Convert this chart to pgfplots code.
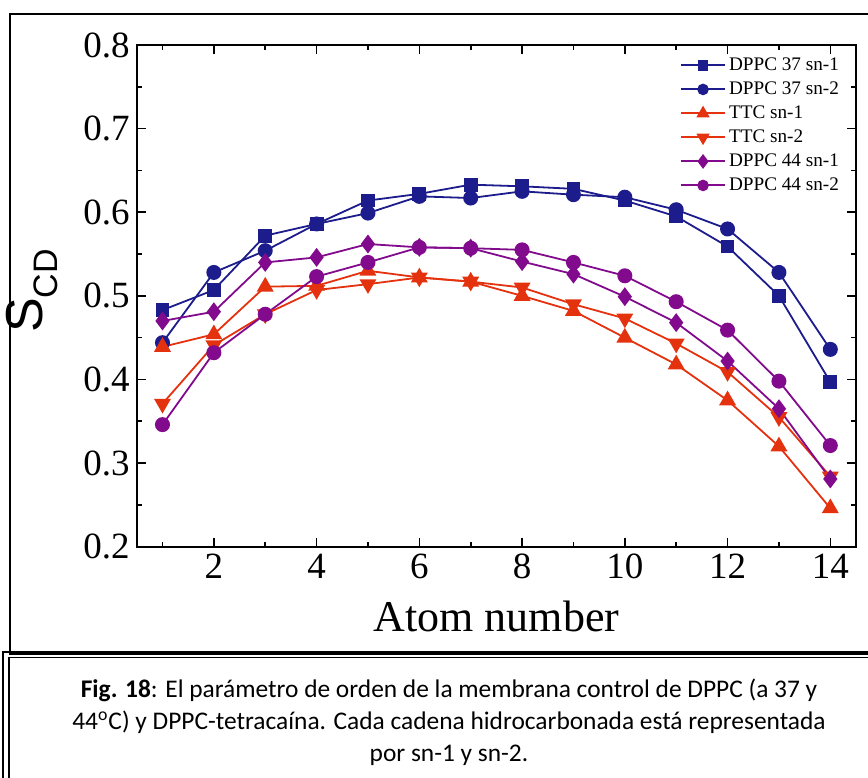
\documentclass[border=0pt]{standalone}
\usepackage{pgfplots}
\pgfplotsset{compat=1.18}
\usepackage{pgfplotstable}
\usepackage{fontspec}
\setmainfont{Liberation Serif}
\newfontfamily\arialfont{Liberation Sans}
\newfontfamily\calibri{Carlito}

\definecolor{navy37}{RGB}{28,28,140}
\definecolor{ttcred}{RGB}{228,50,15}
\definecolor{purp44}{RGB}{130,10,140}

% S_CD per carbon atom: DPPC 37C, TTC, DPPC 44C (sn-1 / sn-2)
\pgfplotstableread{
x  s37a  s37b  ttca  ttcb  s44a  s44b
1  0.483 0.444 0.439 0.371 0.470 0.346
2  0.507 0.528 0.454 0.441 0.481 0.432
3  0.572 0.554 0.511 0.478 0.540 0.478
4  0.586 0.586 0.512 0.507 0.546 0.523
5  0.614 0.599 0.530 0.514 0.562 0.540
6  0.622 0.619 0.522 0.522 0.558 0.558
7  0.633 0.617 0.517 0.517 0.557 0.557
8  0.631 0.625 0.500 0.510 0.541 0.555
9  0.628 0.621 0.482 0.490 0.526 0.540
10 0.614 0.618 0.450 0.473 0.499 0.524
11 0.595 0.603 0.418 0.443 0.468 0.493
12 0.559 0.580 0.375 0.409 0.422 0.459
13 0.500 0.528 0.320 0.355 0.365 0.398
14 0.397 0.436 0.246 0.284 0.281 0.321
}\sdata

\begin{document}
\begin{tikzpicture}
\useasboundingbox (0,0) rectangle (434pt,-388.5pt);
% frames round the figure and the caption
\draw[line width=1pt] (5pt,-7pt) rectangle (434.5pt,-327pt);
\draw[line width=0.6pt] (1.5pt,-389pt) -- (1.5pt,-326pt) -- (435pt,-326pt);
\draw[line width=0.6pt] (4.5pt,-389pt) -- (4.5pt,-328.7pt) -- (435pt,-328.7pt);

\begin{axis}[at={(68.4pt,-273.35pt)},anchor=south west,
 scale only axis,width=359.6pt,height=250.85pt,
 xmin=0.5,xmax=14.5,ymin=0.2,ymax=0.8,
 xtick={2,4,6,8,10,12,14},minor xtick={1,3,5,7,9,11,13},
 ytick={0.2,0.3,0.4,0.5,0.6,0.7,0.8},minor ytick={0.25,0.35,0.45,0.55,0.65,0.75},
 yticklabel style={/pgf/number format/fixed,/pgf/number format/precision=1,/pgf/number format/fixed zerofill},
 /pgf/number format/assume math mode=true,
 tick align=inside,major tick length=4.5pt,minor tick length=2.5pt,
 axis line style={line width=0.8pt},tick style={line width=0.8pt,black},
 tick label style={font=\fontsize{18.5}{20}\selectfont},
 xlabel={Atom number},xlabel style={font=\fontsize{22}{24}\selectfont,at={(axis description cs:0.5,-0.14)},anchor=center},
 ylabel={\arialfont S\raisebox{-0.28em}{\fontsize{17}{17}\selectfont CD}},
 ylabel style={font=\fontsize{26}{28}\selectfont,at={(axis description cs:-0.146,0.51)},anchor=center},
 legend style={at={(axis description cs:0.981,0.984)},anchor=north east,draw=none,fill=none,
  font=\fontsize{9.6}{11}\selectfont,inner sep=0pt,row sep=0pt,
  nodes={inner sep=1.5pt,text height=6.8pt,text depth=2.2pt}},
 legend cell align=left,
 legend image code/.code={\draw[line width=1pt,mark repeat=2,mark phase=2,every mark/.append style={scale=0.72}]
   plot coordinates {(0pt,0pt)(11pt,0pt)(22pt,0pt)};},
 every axis plot/.append style={line width=0.9pt,mark options={solid}}]
\addplot[color=navy37,mark=square*,mark size=3pt] table[x=x,y=s37a]{\sdata};
\addlegendentry{DPPC 37 sn-1}
\addplot[color=navy37,mark=*,mark size=3.3pt] table[x=x,y=s37b]{\sdata};
\addlegendentry{DPPC 37 sn-2}
\addplot[color=ttcred,mark=triangle*,mark size=4pt] table[x=x,y=ttca]{\sdata};
\addlegendentry{TTC sn-1}
\addplot[color=ttcred,mark=triangle*,mark size=4pt,mark options={rotate=180}] table[x=x,y=ttcb]{\sdata};
\addlegendentry{TTC sn-2}
\addplot[color=purp44,mark=diamond*,mark size=4pt] table[x=x,y=s44a]{\sdata};
\addlegendentry{DPPC 44 sn-1}
\addplot[color=purp44,mark=*,mark size=3.3pt] table[x=x,y=s44b]{\sdata};
\addlegendentry{DPPC 44 sn-2}
\end{axis}

\begin{scope}[font=\calibri\fontsize{12.7}{14}\selectfont]
\node[anchor=base,inner sep=0pt] at (224.5pt,-348.5pt) {\textbf{Fig. 18}: El parámetro de orden de la membrana control de DPPC (a 37 y};
\node[anchor=base,inner sep=0pt] at (224.5pt,-364.5pt) {44\textsuperscript{o}C) y DPPC-tetracaína. Cada cadena hidrocarbonada está representada};
\node[anchor=base,inner sep=0pt] at (224.5pt,-380.5pt) {por sn-1 y sn-2.};
\end{scope}
\end{tikzpicture}
\end{document}
